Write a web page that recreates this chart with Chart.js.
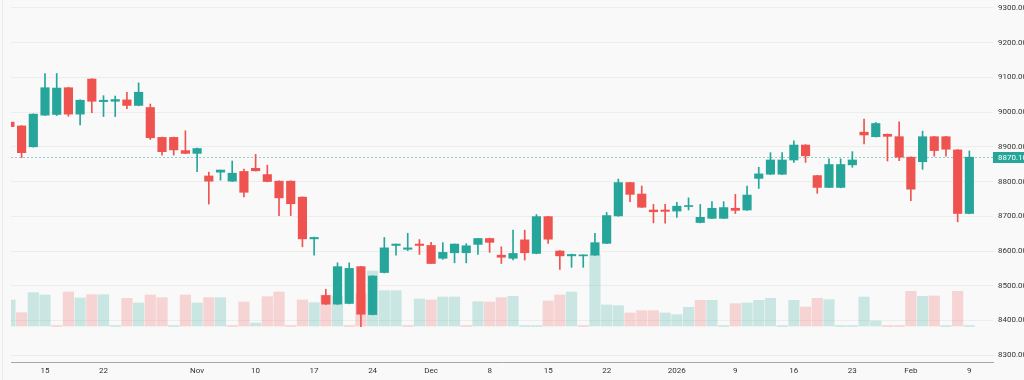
<!DOCTYPE html>
<html>
<head>
<meta charset="utf-8">
<script src="https://cdn.jsdelivr.net/npm/chart.js@4.4.1/dist/chart.umd.min.js"></script>
<style>
  html, body { margin: 0; padding: 0; background: #f8f9f8; }
  canvas { display: block; }
</style>
</head>
<body>
<canvas id="chart" width="1024" height="380"></canvas>
<script>
// trading days, one per bar
const dates = [
  "Oct 10",
  "Oct 13", "Oct 14", "Oct 15", "Oct 16", "Oct 17",
  "Oct 20", "Oct 21", "Oct 22", "Oct 23", "Oct 24",
  "Oct 27", "Oct 28", "Oct 29", "Oct 30", "Oct 31",
  "Nov 3", "Nov 4", "Nov 5", "Nov 6", "Nov 7",
  "Nov 10", "Nov 11", "Nov 12", "Nov 13", "Nov 14",
  "Nov 17", "Nov 18", "Nov 19", "Nov 20", "Nov 21",
  "Nov 24", "Nov 25", "Nov 26", "Nov 27", "Nov 28",
  "Dec 1", "Dec 2", "Dec 3", "Dec 4", "Dec 5",
  "Dec 8", "Dec 9", "Dec 10", "Dec 11", "Dec 12",
  "Dec 15", "Dec 16", "Dec 17", "Dec 18", "Dec 19",
  "Dec 22", "Dec 23", "Dec 24", "Dec 29", "Dec 30", "Dec 31",
  "Jan 2", "Jan 5", "Jan 6", "Jan 7", "Jan 8", "Jan 9",
  "Jan 12", "Jan 13", "Jan 14", "Jan 15", "Jan 16",
  "Jan 19", "Jan 20", "Jan 21", "Jan 22", "Jan 23",
  "Jan 27", "Jan 28", "Jan 29", "Jan 30",
  "Feb 2", "Feb 3", "Feb 4", "Feb 5", "Feb 6",
  "Feb 9"
];

const opens = [
  8971, 8960, 8900, 8991, 8993, 9070, 8994, 9095, 9030, 9031,
  9035, 9019, 9013, 8927, 8927, 8889, 8881, 8816, 8827, 8801,
  8829, 8838, 8820, 8801, 8801, 8755, 8635, 8472, 8447, 8449,
  8555, 8417, 8538, 8616, 8605, 8620, 8616, 8579, 8595, 8595,
  8619, 8636, 8588, 8579, 8632, 8593, 8699, 8600, 8586, 8586,
  8588, 8622, 8701, 8797, 8764, 8718, 8718, 8715, 8728, 8682,
  8694, 8694, 8723, 8718, 8809, 8821, 8821, 8862, 8905, 8817,
  8783, 8783, 8848, 8942, 8929, 8936, 8929, 8870, 8857, 8929,
  8929, 8891, 8708
];
const highs = [
  8973, 8961, 8995, 9111, 9111, 9071, 9035, 9096, 9047, 9046,
  9057, 9084, 9023, 8928, 8928, 8946, 8896, 8827, 8833, 8859,
  8836, 8878, 8847, 8802, 8802, 8756, 8640, 8490, 8566, 8566,
  8556, 8529, 8639, 8620, 8651, 8633, 8625, 8624, 8620, 8621,
  8636, 8637, 8612, 8660, 8660, 8705, 8700, 8601, 8591, 8589,
  8651, 8711, 8807, 8798, 8787, 8734, 8734, 8740, 8753, 8734,
  8742, 8742, 8763, 8787, 8841, 8883, 8883, 8917, 8906, 8818,
  8865, 8865, 8886, 8980, 8970, 8937, 8972, 8871, 8945, 8930,
  8930, 8892, 8888
];
const lows = [
  8956, 8869, 8899, 8990, 8990, 8988, 8963, 8998, 8987, 8987,
  9010, 9018, 8921, 8876, 8876, 8880, 8828, 8735, 8804, 8800,
  8756, 8830, 8799, 8702, 8702, 8612, 8588, 8446, 8446, 8448,
  8382, 8416, 8537, 8588, 8601, 8590, 8564, 8576, 8566, 8566,
  8590, 8596, 8564, 8574, 8574, 8592, 8622, 8547, 8553, 8553,
  8587, 8621, 8700, 8742, 8725, 8681, 8680, 8697, 8718, 8681,
  8693, 8693, 8708, 8717, 8780, 8820, 8820, 8855, 8855, 8766,
  8782, 8782, 8841, 8908, 8928, 8859, 8860, 8745, 8835, 8873,
  8873, 8684, 8707
];
const closes = [
  8958, 8883, 8994, 9070, 9069, 8994, 9034, 9031, 9034, 9036,
  9019, 9057, 8926, 8886, 8891, 8881, 8895, 8801, 8833, 8824,
  8769, 8831, 8800, 8753, 8736, 8635, 8639, 8447, 8555, 8550,
  8418, 8528, 8609, 8620, 8609, 8616, 8564, 8596, 8620, 8615,
  8636, 8625, 8582, 8593, 8595, 8699, 8634, 8586, 8590, 8588,
  8624, 8702, 8797, 8763, 8726, 8713, 8714, 8729, 8730, 8697,
  8723, 8725, 8717, 8761, 8822, 8862, 8862, 8905, 8874, 8783,
  8849, 8849, 8862, 8934, 8967, 8930, 8870, 8778, 8929, 8889,
  8893, 8708, 8870.1
];
// volume, millions
const volumes = [
  390, 200, 500, 465, 0, 510, 420, 470, 470, 0,
  415, 345, 465, 425, 0, 465, 345, 425, 425, 0,
  360, 45, 440, 510, 0, 390, 350, 465, 450, 0,
  490, 825, 530, 530, 0, 405, 390, 435, 435, 0,
  365, 360, 425, 445, 0, 0, 375, 465, 510, 0,
  1075, 315, 305, 195, 230, 230, 195, 170, 280, 385,
  385, 0, 335, 345, 385, 415, 0, 385, 285, 415,
  395, 0, 0, 435, 75, 0, 0, 520, 445, 450,
  0, 520, 0
];

// x axis labels and the bars they sit under
const tickIdx = [3, 8, 16, 21, 26, 31, 36, 41, 46, 51, 57, 62, 67, 72, 77, 82];
const tickText = ["15", "22", "Nov", "10", "17", "24", "Dec", "8", "15", "22", "2026", "9", "16", "23", "Feb", "9"];

const UP = "#26a69a";
const DOWN = "#ef5350";
const UP_VOL = "rgba(38,166,154,0.22)";
const DOWN_VOL = "rgba(239,83,80,0.22)";
const FONT = { family: "Roboto", size: 8 };

const candleColors = opens.map((o, i) => (closes[i] >= o ? UP : DOWN));
const volColors = closes.map((c, i) => (i === 0 || c >= closes[i - 1] ? UP_VOL : DOWN_VOL));
const lastClose = closes[closes.length - 1];

const lastPricePlugin = {
  id: "lastPrice",
  beforeDraw(chart) {
    const ctx = chart.ctx;
    ctx.save();
    ctx.fillStyle = "rgba(0,0,0,0.06)";
    ctx.fillRect(2, 0, 1, chart.height);
    ctx.restore();
  },
  beforeDatasetsDraw(chart) {
    const { ctx, chartArea } = chart;
    const y = Math.round(chart.scales.y.getPixelForValue(lastClose)) + 0.5;
    ctx.save();
    ctx.strokeStyle = "rgba(38,166,154,0.5)";
    ctx.lineWidth = 1;
    ctx.setLineDash([2, 2]);
    ctx.beginPath();
    ctx.moveTo(chartArea.left, y);
    ctx.lineTo(chartArea.right, y);
    ctx.stroke();
    ctx.restore();
  },
  afterDraw(chart) {
    const { ctx, chartArea } = chart;
    const y = chart.scales.y.getPixelForValue(lastClose);
    ctx.save();
    ctx.fillStyle = UP;
    ctx.fillRect(chartArea.right, Math.round(y) - 5, chart.width - chartArea.right, 11);
    ctx.fillStyle = "#ffffff";
    ctx.font = "8px Roboto";
    ctx.textBaseline = "middle";
    ctx.fillText(lastClose.toFixed(2), chartArea.right + 5, Math.round(y) + 0.5);
    ctx.restore();
  }
};

const ctx = document.getElementById("chart").getContext("2d");
new Chart(ctx, {
  type: "bar",
  data: {
    datasets: [
      {
        label: "Volume",
        yAxisID: "v",
        data: volumes.map((v, i) => ({ x: i, y: v })),
        backgroundColor: volColors,
        barThickness: 10.5,
        minBarLength: 1,
        grouped: false,
        order: 3
      },
      {
        label: "Wick",
        yAxisID: "y",
        data: lows.map((l, i) => ({ x: i, y: [l, highs[i]] })),
        backgroundColor: candleColors,
        barThickness: 1,
        grouped: false,
        order: 2
      },
      {
        label: "Body",
        yAxisID: "y",
        data: opens.map((o, i) => ({ x: i, y: [o, closes[i]] })),
        backgroundColor: candleColors,
        barThickness: 8.5,
        minBarLength: 1,
        grouped: false,
        order: 1
      }
    ]
  },
  options: {
    responsive: false,
    animation: false,
    devicePixelRatio: 1,
    layout: { padding: { left: 11, top: 0, right: 0, bottom: 0 } },
    plugins: {
      legend: { display: false },
      tooltip: { enabled: false }
    },
    scales: {
      x: {
        type: "linear",
        offset: false,
        min: 0.094,
        max: 84.02,
        grid: { display: false, drawTicks: false },
        border: { display: true, color: "#a3a6af", width: 1 },
        afterBuildTicks: (scale) => {
          scale.ticks = tickIdx.map((v) => ({ value: v }));
        },
        afterFit: (scale) => {
          scale.height = 18;
          scale.paddingLeft = 0;
          scale.paddingRight = 0;
        },
        ticks: {
          autoSkip: false,
          maxRotation: 0,
          padding: 4,
          color: "#333",
          font: FONT,
          callback: (value, index) => tickText[index]
        }
      },
      y: {
        position: "right",
        min: 8280.5,
        max: 9322.5,
        grid: { color: "#eceeec", drawTicks: false },
        border: { display: false },
        afterFit: (scale) => {
          scale.width = 31;
          scale.paddingTop = 0;
          scale.paddingBottom = 0;
        },
        ticks: {
          stepSize: 100,
          includeBounds: false,
          padding: 5,
          crossAlign: "near",
          color: "#333",
          font: FONT,
          callback: (v) => v.toFixed(2)
        }
      },
      v: {
        display: false,
        min: -540,
        max: 4890
      }
    }
  },
  plugins: [lastPricePlugin]
});
</script>
</body>
</html>
